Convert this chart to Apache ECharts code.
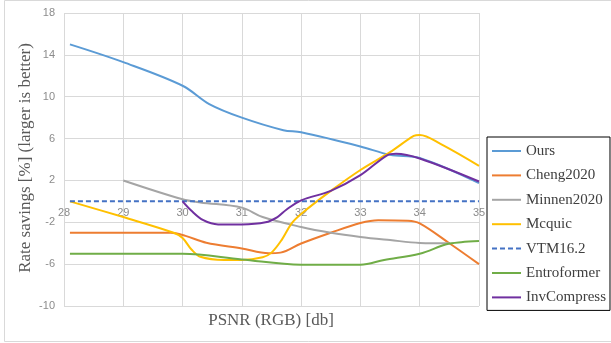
<!DOCTYPE html>
<html>
<head>
<meta charset="utf-8">
<script src="https://cdn.jsdelivr.net/npm/echarts@6/dist/echarts.min.js"></script>
<style>
  html, body { margin: 0; padding: 0; background: #ffffff; }
  #chart { width: 611px; height: 343px; }
</style>
</head>
<body>
<div id="chart"></div>
<script>
// Rate savings versus PSNR for several learned image codecs (VTM16.2 anchor at 0).
const seriesNames = ['Ours', 'Cheng2020', 'Minnen2020', 'Mcquic', 'VTM16.2', 'Entroformer', 'InvCompress'];
const seriesColors = ['#5b9bd5', '#ed7d31', '#a5a5a5', '#ffc000', '#4472c4', '#70ad47', '#7030a0'];

const xTicks = [28, 29, 30, 31, 32, 33, 34, 35];
const yTicks = [-10, -6, -2, 2, 6, 10, 14, 18];

const oursPsnr = [28.1, 29, 30, 30.45, 31, 31.7, 32, 33, 33.5, 34, 35];
const oursSave = [15.0, 13.3, 11.05, 9.3, 8.0, 6.8, 6.6, 5.25, 4.45, 4.15, 1.75];

const chengPsnr = [28.1, 29, 29.8, 30.05, 30.4, 31, 31.45, 31.65, 32, 32.5, 33, 33.3, 33.8, 34, 34.5, 35];
const chengSave = [-3.0, -3.0, -3.0, -3.3, -3.95, -4.5, -4.95, -4.9, -4.03, -3.0, -2.07, -1.8, -1.85, -2.1, -4.0, -6.0];

const minnenPsnr = [29, 30, 30.3, 31, 31.35, 32, 32.5, 33, 33.5, 34, 34.5];
const minnenSave = [2.0, 0.2, -0.1, -0.6, -1.5, -2.45, -3.0, -3.4, -3.7, -3.97, -4.0];

const mcquicPsnr = [28.1, 29, 29.85, 30.0, 30.15, 30.3, 30.7, 31, 31.35, 31.5, 31.67, 31.84, 32, 32.5, 33, 33.5, 33.9, 34, 34.35, 35];
const mcquicSave = [0.0, -1.5, -3.0, -3.5, -4.6, -5.3, -5.6, -5.6, -5.35, -4.9, -3.7, -2.1, -1.2, 1.0, 3.0, 4.7, 6.25, 6.35, 5.5, 3.4];

const vtmPsnr = [28.1, 35];
const vtmSave = [0, 0];

const entroPsnr = [28.1, 29, 30, 31, 32, 33, 33.4, 34, 34.45, 34.7, 35];
const entroSave = [-5.0, -5.0, -5.0, -5.55, -6.05, -6.05, -5.6, -5.0, -4.1, -3.9, -3.8];

const invPsnr = [30, 30.15, 30.35, 30.6, 31, 31.4, 31.6, 31.75, 32, 32.5, 33, 33.45, 33.6, 34, 35];
const invSave = [0.0, -0.9, -1.8, -2.2, -2.2, -2.0, -1.5, -0.8, 0.1, 1.0, 2.5, 4.4, 4.55, 4.1, 1.9];

const zip = (xs, ys) => xs.map((x, i) => [x, ys[i]]);
const seriesData = [
  zip(oursPsnr, oursSave),
  zip(chengPsnr, chengSave),
  zip(minnenPsnr, minnenSave),
  zip(mcquicPsnr, mcquicSave),
  zip(vtmPsnr, vtmSave),
  zip(entroPsnr, entroSave),
  zip(invPsnr, invSave)
];

const chart = echarts.init(document.getElementById('chart'), null, { renderer: 'canvas' });

const series = seriesNames.map((name, i) => ({
  name: name,
  type: 'line',
  data: seriesData[i],
  smooth: name === 'VTM16.2' ? false : 0.35,
  symbol: 'none',
  showSymbol: false,
  lineStyle: {
    color: seriesColors[i],
    width: 2,
    type: name === 'VTM16.2' ? [5, 3] : 'solid'
  },
  itemStyle: { color: seriesColors[i] },
  z: 2 + i
}));

chart.setOption({
  animation: false,
  backgroundColor: '#ffffff',
  grid: { left: 64, right: 132, top: 13, bottom: 37, containLabel: false },
  xAxis: {
    type: 'value',
    min: 28, max: 35, interval: 1,
    axisLine: { show: false, onZero: false },
    axisTick: { show: false },
    axisLabel: {
      // tick labels sit just under the zero line, inside the plot
      margin: -99,
      color: '#8c8c8c',
      fontSize: 11,
      fontFamily: 'Liberation Sans',
      formatter: v => (xTicks.includes(v) ? String(v) : '')
    },
    splitLine: { show: true, lineStyle: { color: '#d9d9d9', width: 1 } }
  },
  yAxis: {
    type: 'value',
    min: -10, max: 18, interval: 4,
    axisLine: { show: false },
    axisTick: { show: false },
    axisLabel: {
      margin: 9,
      color: '#8c8c8c',
      fontSize: 11,
      fontFamily: 'Liberation Sans',
      formatter: v => (yTicks.includes(v) ? String(v) : '')
    },
    splitLine: { show: true, lineStyle: { color: '#d9d9d9', width: 1 } }
  },
  legend: {
    data: seriesNames,
    orient: 'vertical',
    left: 487,
    top: 137,
    padding: [6, 4, 5, 4],
    itemWidth: 29,
    itemHeight: 14,
    itemGap: 8.4,
    borderColor: '#000000',
    borderWidth: 1,
    backgroundColor: '#ffffff',
    itemStyle: { color: 'rgba(0,0,0,0)', borderWidth: 0, opacity: 0 },
    textStyle: {
      fontFamily: 'Liberation Serif',
      fontSize: 15,
      lineHeight: 16,
      color: '#404040'
    }
  },
  graphic: [
    {
      type: 'rect',
      silent: true,
      z: -10,
      shape: { x: 4.5, y: 0.5, width: 620, height: 341 },
      style: { fill: 'none', stroke: '#d9d9d9', lineWidth: 1 }
    },
    {
      type: 'text',
      silent: true,
      x: 26,
      y: 158,
      rotation: Math.PI / 2,
      style: {
        text: 'Rate savings [%] (larger is better)',
        fontFamily: 'Liberation Serif',
        fontSize: 17,
        fill: '#595959',
        align: 'center',
        verticalAlign: 'middle'
      }
    },
    {
      type: 'text',
      silent: true,
      x: 271,
      y: 321,
      style: {
        text: 'PSNR (RGB) [db]',
        fontFamily: 'Liberation Serif',
        fontSize: 17,
        fill: '#595959',
        align: 'center',
        verticalAlign: 'middle'
      }
    }
  ],
  series: series
});
</script>
</body>
</html>
